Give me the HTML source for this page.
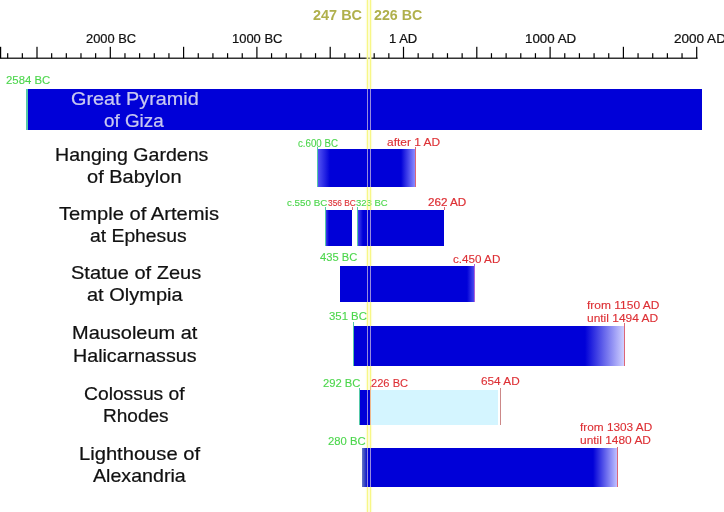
<!DOCTYPE html>
<html><head><meta charset="utf-8"><style>
html,body{margin:0;padding:0;background:#fff;}
body{width:724px;height:512px;position:relative;overflow:hidden;font-family:"Liberation Sans",sans-serif;}
.t{position:absolute;white-space:nowrap;line-height:1;transform-origin:0 0;}
.r{position:absolute;}
</style></head><body>
<svg class="r" style="left:0;top:0" width="724" height="512">
<rect x="0" y="57.6" width="697.6" height="1.2" fill="#000"/>
<rect x="0.00" y="46.8" width="1.2" height="11.40" fill="#000"/>
<rect x="36.40" y="46.8" width="1.2" height="11.40" fill="#000"/>
<rect x="109.70" y="46.8" width="1.2" height="11.40" fill="#000"/>
<rect x="183.00" y="46.8" width="1.2" height="11.40" fill="#000"/>
<rect x="256.30" y="46.8" width="1.2" height="11.40" fill="#000"/>
<rect x="329.60" y="46.8" width="1.2" height="11.40" fill="#000"/>
<rect x="402.90" y="46.8" width="1.2" height="11.40" fill="#000"/>
<rect x="476.20" y="46.8" width="1.2" height="11.40" fill="#000"/>
<rect x="549.50" y="46.8" width="1.2" height="11.40" fill="#000"/>
<rect x="622.80" y="46.8" width="1.2" height="11.40" fill="#000"/>
<rect x="696.10" y="46.8" width="1.2" height="11.40" fill="#000"/>
<rect x="7.08" y="53.2" width="1.2" height="5.00" fill="#000"/>
<rect x="21.74" y="53.2" width="1.2" height="5.00" fill="#000"/>
<rect x="51.06" y="53.2" width="1.2" height="5.00" fill="#000"/>
<rect x="65.72" y="53.2" width="1.2" height="5.00" fill="#000"/>
<rect x="80.38" y="53.2" width="1.2" height="5.00" fill="#000"/>
<rect x="95.04" y="53.2" width="1.2" height="5.00" fill="#000"/>
<rect x="124.36" y="53.2" width="1.2" height="5.00" fill="#000"/>
<rect x="139.02" y="53.2" width="1.2" height="5.00" fill="#000"/>
<rect x="153.68" y="53.2" width="1.2" height="5.00" fill="#000"/>
<rect x="168.34" y="53.2" width="1.2" height="5.00" fill="#000"/>
<rect x="197.66" y="53.2" width="1.2" height="5.00" fill="#000"/>
<rect x="212.32" y="53.2" width="1.2" height="5.00" fill="#000"/>
<rect x="226.98" y="53.2" width="1.2" height="5.00" fill="#000"/>
<rect x="241.64" y="53.2" width="1.2" height="5.00" fill="#000"/>
<rect x="270.96" y="53.2" width="1.2" height="5.00" fill="#000"/>
<rect x="285.62" y="53.2" width="1.2" height="5.00" fill="#000"/>
<rect x="300.28" y="53.2" width="1.2" height="5.00" fill="#000"/>
<rect x="314.94" y="53.2" width="1.2" height="5.00" fill="#000"/>
<rect x="344.26" y="53.2" width="1.2" height="5.00" fill="#000"/>
<rect x="358.92" y="53.2" width="1.2" height="5.00" fill="#000"/>
<rect x="373.58" y="53.2" width="1.2" height="5.00" fill="#000"/>
<rect x="388.24" y="53.2" width="1.2" height="5.00" fill="#000"/>
<rect x="417.56" y="53.2" width="1.2" height="5.00" fill="#000"/>
<rect x="432.22" y="53.2" width="1.2" height="5.00" fill="#000"/>
<rect x="446.88" y="53.2" width="1.2" height="5.00" fill="#000"/>
<rect x="461.54" y="53.2" width="1.2" height="5.00" fill="#000"/>
<rect x="490.86" y="53.2" width="1.2" height="5.00" fill="#000"/>
<rect x="505.52" y="53.2" width="1.2" height="5.00" fill="#000"/>
<rect x="520.18" y="53.2" width="1.2" height="5.00" fill="#000"/>
<rect x="534.84" y="53.2" width="1.2" height="5.00" fill="#000"/>
<rect x="564.16" y="53.2" width="1.2" height="5.00" fill="#000"/>
<rect x="578.82" y="53.2" width="1.2" height="5.00" fill="#000"/>
<rect x="593.48" y="53.2" width="1.2" height="5.00" fill="#000"/>
<rect x="608.14" y="53.2" width="1.2" height="5.00" fill="#000"/>
<rect x="637.46" y="53.2" width="1.2" height="5.00" fill="#000"/>
<rect x="652.12" y="53.2" width="1.2" height="5.00" fill="#000"/>
<rect x="666.78" y="53.2" width="1.2" height="5.00" fill="#000"/>
<rect x="681.44" y="53.2" width="1.2" height="5.00" fill="#000"/>
</svg>
<div class="r" style="left:366.55px;top:0;width:1.6px;height:512px;background:#eeee6a;box-shadow:0 0 1.5px 0.5px #f8f8b8;"></div>
<div class="r" style="left:369.6px;top:0;width:1.6px;height:512px;background:#eeee6a;box-shadow:0 0 1.5px 0.5px #f8f8b8;"></div>
<div class="r" style="left:26px;top:89.3px;width:676px;height:40.3px;background:#0000d8;"></div>
<div class="r" style="left:316.7px;top:148.5px;width:98.0px;height:38.5px;background:linear-gradient(to right,#5a5af5 0px,#0000d8 13px,#0000d8 84px,#8a8aff 98px);"></div>
<div class="r" style="left:325px;top:210px;width:27.19999999999999px;height:35.599999999999994px;background:linear-gradient(to right,#5050f0 0px,#0000d8 4px);"></div>
<div class="r" style="left:357.4px;top:210px;width:86.70000000000005px;height:35.599999999999994px;background:linear-gradient(to right,#5050f0 0px,#0000d8 6px);"></div>
<div class="r" style="left:339.9px;top:266px;width:134.70000000000005px;height:36px;background:linear-gradient(to right,#0000d8 0px,#0000d8 127px,#5050f0 134.7px);"></div>
<div class="r" style="left:352.7px;top:326px;width:271.09999999999997px;height:40px;background:linear-gradient(to right,#0000d8 0px,#0000d8 232px,#d0d0ff 271px);"></div>
<div class="r" style="left:359.4px;top:389.5px;width:10.700000000000045px;height:35.60000000000002px;background:#0000d8;"></div>
<div class="r" style="left:370.8px;top:389.5px;width:127.69999999999999px;height:35.5px;background:#d4f5ff;"></div>
<div class="r" style="left:362.2px;top:447.6px;width:255.3px;height:39.19999999999999px;background:linear-gradient(to right,#6878c8 0px,#3040c0 3px,#0000d8 5.5px,#0000d8 231px,#c0c0ff 255px);"></div>
<div class="r" style="left:26.2px;top:89.3px;width:1.5px;height:40.7px;background:#55c8a8;"></div>
<div class="r" style="left:316.5px;top:147px;width:1px;height:40px;background:#55c8a8;"></div>
<div class="r" style="left:414.5px;top:147px;width:1px;height:40px;background:#dd6677;"></div>
<div class="r" style="left:324.8px;top:207px;width:1px;height:39px;background:#55c8a8;"></div>
<div class="r" style="left:352.3px;top:207px;width:1px;height:3px;background:#dd6677;"></div>
<div class="r" style="left:357.2px;top:207px;width:1px;height:39px;background:#55c8a8;"></div>
<div class="r" style="left:444.2px;top:207px;width:1px;height:3px;background:#dd6677;"></div>
<div class="r" style="left:474.3px;top:264px;width:1px;height:38px;background:#b060d8;"></div>
<div class="r" style="left:352.5px;top:322px;width:1px;height:44px;background:#55c8a8;"></div>
<div class="r" style="left:623.5px;top:323px;width:1px;height:43px;background:#dd6677;"></div>
<div class="r" style="left:499.5px;top:387.5px;width:1px;height:37.5px;background:#cc8888;"></div>
<div class="r" style="left:370.1px;top:386px;width:1px;height:39px;background:#d86070;"></div>
<div class="r" style="left:617.3px;top:446.5px;width:1px;height:40.30000000000001px;background:#dd6677;"></div>
<div class="r" style="left:359.2px;top:388px;width:1px;height:37px;background:#55c8a8;"></div>
<div class="t" id="t0" style="left:312.75px;top:7.31px;font-size:15.41px;color:#b0b04c;font-weight:bold;transform:scaleX(0.9383);-webkit-text-stroke:0px currentColor;">247 BC<span class="bl" style="display:inline-block;width:0;height:0;vertical-align:baseline"></span></div>
<div class="t" id="t1" style="left:374.19px;top:7.31px;font-size:15.41px;color:#b0b04c;font-weight:bold;transform:scaleX(0.9217);-webkit-text-stroke:0px currentColor;">226 BC<span class="bl" style="display:inline-block;width:0;height:0;vertical-align:baseline"></span></div>
<div class="t" id="t2" style="left:86.38px;top:32.90px;font-size:12.65px;color:#111;font-weight:normal;transform:scaleX(1.0171);-webkit-text-stroke:0.22px currentColor;">2000 BC<span class="bl" style="display:inline-block;width:0;height:0;vertical-align:baseline"></span></div>
<div class="t" id="t3" style="left:232.13px;top:32.71px;font-size:12.65px;color:#111;font-weight:normal;transform:scaleX(1.0253);-webkit-text-stroke:0.22px currentColor;">1000 BC<span class="bl" style="display:inline-block;width:0;height:0;vertical-align:baseline"></span></div>
<div class="t" id="t4" style="left:388.99px;top:32.81px;font-size:12.06px;color:#111;font-weight:normal;transform:scaleX(1.0822);-webkit-text-stroke:0.22px currentColor;">1 AD<span class="bl" style="display:inline-block;width:0;height:0;vertical-align:baseline"></span></div>
<div class="t" id="t5" style="left:525.32px;top:33.50px;font-size:11.92px;color:#111;font-weight:normal;transform:scaleX(1.1205);-webkit-text-stroke:0.22px currentColor;">1000 AD<span class="bl" style="display:inline-block;width:0;height:0;vertical-align:baseline"></span></div>
<div class="t" id="t6" style="left:674.18px;top:32.70px;font-size:12.21px;color:#111;font-weight:normal;transform:scaleX(1.1090);-webkit-text-stroke:0.22px currentColor;">2000 AD<span class="bl" style="display:inline-block;width:0;height:0;vertical-align:baseline"></span></div>
<div class="t" id="t7" style="left:71.22px;top:90.01px;font-size:18.17px;color:#c8c8f0;font-weight:normal;transform:scaleX(1.0917);-webkit-text-stroke:0.22px currentColor;">Great Pyramid<span class="bl" style="display:inline-block;width:0;height:0;vertical-align:baseline"></span></div>
<div class="t" id="t8" style="left:104.00px;top:111.91px;font-size:18.17px;color:#c8c8f0;font-weight:normal;transform:scaleX(1.0372);-webkit-text-stroke:0.22px currentColor;">of Giza<span class="bl" style="display:inline-block;width:0;height:0;vertical-align:baseline"></span></div>
<div class="t" id="t9" style="left:54.94px;top:146.20px;font-size:18.17px;color:#111;font-weight:normal;transform:scaleX(1.0776);-webkit-text-stroke:0.22px currentColor;">Hanging Gardens<span class="bl" style="display:inline-block;width:0;height:0;vertical-align:baseline"></span></div>
<div class="t" id="t10" style="left:87.42px;top:168.32px;font-size:18.17px;color:#111;font-weight:normal;transform:scaleX(1.1021);-webkit-text-stroke:0.22px currentColor;">of Babylon<span class="bl" style="display:inline-block;width:0;height:0;vertical-align:baseline"></span></div>
<div class="t" id="t11" style="left:58.71px;top:204.91px;font-size:18.17px;color:#111;font-weight:normal;transform:scaleX(1.1096);-webkit-text-stroke:0.22px currentColor;">Temple of Artemis<span class="bl" style="display:inline-block;width:0;height:0;vertical-align:baseline"></span></div>
<div class="t" id="t12" style="left:90.16px;top:227.01px;font-size:18.17px;color:#111;font-weight:normal;transform:scaleX(1.0644);-webkit-text-stroke:0.22px currentColor;">at Ephesus<span class="bl" style="display:inline-block;width:0;height:0;vertical-align:baseline"></span></div>
<div class="t" id="t13" style="left:70.54px;top:264.32px;font-size:18.17px;color:#111;font-weight:normal;transform:scaleX(1.1023);-webkit-text-stroke:0.22px currentColor;">Statue of Zeus<span class="bl" style="display:inline-block;width:0;height:0;vertical-align:baseline"></span></div>
<div class="t" id="t14" style="left:87.07px;top:286.20px;font-size:18.17px;color:#111;font-weight:normal;transform:scaleX(1.1014);-webkit-text-stroke:0.22px currentColor;">at Olympia<span class="bl" style="display:inline-block;width:0;height:0;vertical-align:baseline"></span></div>
<div class="t" id="t15" style="left:71.86px;top:324.41px;font-size:18.02px;color:#111;font-weight:normal;transform:scaleX(1.1081);-webkit-text-stroke:0.22px currentColor;">Mausoleum at<span class="bl" style="display:inline-block;width:0;height:0;vertical-align:baseline"></span></div>
<div class="t" id="t16" style="left:73.11px;top:346.82px;font-size:18.17px;color:#111;font-weight:normal;transform:scaleX(1.0830);-webkit-text-stroke:0.22px currentColor;">Halicarnassus<span class="bl" style="display:inline-block;width:0;height:0;vertical-align:baseline"></span></div>
<div class="t" id="t17" style="left:83.65px;top:384.91px;font-size:18.17px;color:#111;font-weight:normal;transform:scaleX(1.0611);-webkit-text-stroke:0.22px currentColor;">Colossus of<span class="bl" style="display:inline-block;width:0;height:0;vertical-align:baseline"></span></div>
<div class="t" id="t18" style="left:103.26px;top:406.82px;font-size:18.17px;color:#111;font-weight:normal;transform:scaleX(1.0488);-webkit-text-stroke:0.22px currentColor;">Rhodes<span class="bl" style="display:inline-block;width:0;height:0;vertical-align:baseline"></span></div>
<div class="t" id="t19" style="left:78.58px;top:444.91px;font-size:18.17px;color:#111;font-weight:normal;transform:scaleX(1.1099);-webkit-text-stroke:0.22px currentColor;">Lighthouse of<span class="bl" style="display:inline-block;width:0;height:0;vertical-align:baseline"></span></div>
<div class="t" id="t20" style="left:93.15px;top:466.82px;font-size:18.17px;color:#111;font-weight:normal;transform:scaleX(1.0812);-webkit-text-stroke:0.22px currentColor;">Alexandria<span class="bl" style="display:inline-block;width:0;height:0;vertical-align:baseline"></span></div>
<div class="t" id="t21" style="left:6.27px;top:75.10px;font-size:10.90px;color:#4cd64c;font-weight:normal;transform:scaleX(1.0452);-webkit-text-stroke:0.12px currentColor;">2584 BC<span class="bl" style="display:inline-block;width:0;height:0;vertical-align:baseline"></span></div>
<div class="t" id="t22" style="left:298.10px;top:137.81px;font-size:11.05px;color:#4cd64c;font-weight:normal;transform:scaleX(0.8795);-webkit-text-stroke:0.12px currentColor;">c.600 BC<span class="bl" style="display:inline-block;width:0;height:0;vertical-align:baseline"></span></div>
<div class="t" id="t23" style="left:387.43px;top:137.50px;font-size:10.47px;color:#dd3035;font-weight:normal;transform:scaleX(1.1405);-webkit-text-stroke:0.12px currentColor;">after 1 AD<span class="bl" style="display:inline-block;width:0;height:0;vertical-align:baseline"></span></div>
<div class="t" id="t24" style="left:287.16px;top:198.71px;font-size:9.01px;color:#4cd64c;font-weight:normal;transform:scaleX(1.0865);-webkit-text-stroke:0.12px currentColor;">c.550 BC<span class="bl" style="display:inline-block;width:0;height:0;vertical-align:baseline"></span></div>
<div class="t" id="t25" style="left:327.87px;top:198.50px;font-size:9.30px;color:#dd3035;font-weight:normal;transform:scaleX(0.8999);-webkit-text-stroke:0.12px currentColor;">356 BC<span class="bl" style="display:inline-block;width:0;height:0;vertical-align:baseline"></span></div>
<div class="t" id="t26" style="left:355.97px;top:198.51px;font-size:9.01px;color:#4cd64c;font-weight:normal;transform:scaleX(1.0537);-webkit-text-stroke:0.12px currentColor;">323 BC<span class="bl" style="display:inline-block;width:0;height:0;vertical-align:baseline"></span></div>
<div class="t" id="t27" style="left:427.72px;top:196.31px;font-size:11.63px;color:#dd3035;font-weight:normal;transform:scaleX(1.0045);-webkit-text-stroke:0.22px currentColor;">262 AD<span class="bl" style="display:inline-block;width:0;height:0;vertical-align:baseline"></span></div>
<div class="t" id="t28" style="left:319.78px;top:252.40px;font-size:11.05px;color:#4cd64c;font-weight:normal;transform:scaleX(1.0100);-webkit-text-stroke:0.12px currentColor;">435 BC<span class="bl" style="display:inline-block;width:0;height:0;vertical-align:baseline"></span></div>
<div class="t" id="t29" style="left:453.45px;top:255.21px;font-size:10.17px;color:#dd3035;font-weight:normal;transform:scaleX(1.1477);-webkit-text-stroke:0.12px currentColor;">c.450 AD<span class="bl" style="display:inline-block;width:0;height:0;vertical-align:baseline"></span></div>
<div class="t" id="t30" style="left:328.75px;top:311.41px;font-size:11.19px;color:#4cd64c;font-weight:normal;transform:scaleX(1.0157);-webkit-text-stroke:0.12px currentColor;">351 BC<span class="bl" style="display:inline-block;width:0;height:0;vertical-align:baseline"></span></div>
<div class="t" id="t31" style="left:587.32px;top:300.61px;font-size:10.17px;color:#dd3035;font-weight:normal;transform:scaleX(1.1806);-webkit-text-stroke:0.12px currentColor;">from 1150 AD<span class="bl" style="display:inline-block;width:0;height:0;vertical-align:baseline"></span></div>
<div class="t" id="t32" style="left:586.87px;top:313.51px;font-size:10.17px;color:#dd3035;font-weight:normal;transform:scaleX(1.1770);-webkit-text-stroke:0.12px currentColor;">until 1494 AD<span class="bl" style="display:inline-block;width:0;height:0;vertical-align:baseline"></span></div>
<div class="t" id="t33" style="left:323.20px;top:378.01px;font-size:11.05px;color:#4cd64c;font-weight:normal;transform:scaleX(1.0173);-webkit-text-stroke:0.12px currentColor;">292 BC<span class="bl" style="display:inline-block;width:0;height:0;vertical-align:baseline"></span></div>
<div class="t" id="t34" style="left:370.79px;top:377.90px;font-size:11.48px;color:#dd3035;font-weight:normal;transform:scaleX(0.9700);-webkit-text-stroke:0.12px currentColor;">226 BC<span class="bl" style="display:inline-block;width:0;height:0;vertical-align:baseline"></span></div>
<div class="t" id="t35" style="left:480.85px;top:376.71px;font-size:10.32px;color:#dd3035;font-weight:normal;transform:scaleX(1.1436);-webkit-text-stroke:0.12px currentColor;">654 AD<span class="bl" style="display:inline-block;width:0;height:0;vertical-align:baseline"></span></div>
<div class="t" id="t36" style="left:327.55px;top:435.72px;font-size:10.90px;color:#4cd64c;font-weight:normal;transform:scaleX(1.0358);-webkit-text-stroke:0.12px currentColor;">280 BC<span class="bl" style="display:inline-block;width:0;height:0;vertical-align:baseline"></span></div>
<div class="t" id="t37" style="left:579.88px;top:422.71px;font-size:10.32px;color:#dd3035;font-weight:normal;transform:scaleX(1.1447);-webkit-text-stroke:0.12px currentColor;">from 1303 AD<span class="bl" style="display:inline-block;width:0;height:0;vertical-align:baseline"></span></div>
<div class="t" id="t38" style="left:580.19px;top:434.50px;font-size:10.61px;color:#dd3035;font-weight:normal;transform:scaleX(1.1242);-webkit-text-stroke:0.12px currentColor;">until 1480 AD<span class="bl" style="display:inline-block;width:0;height:0;vertical-align:baseline"></span></div>
<div class="r" style="left:366.55px;top:0;width:1.6px;height:512px;background:#968c30;mix-blend-mode:screen;"></div>
<div class="r" style="left:369.6px;top:0;width:1.6px;height:512px;background:#968c30;mix-blend-mode:screen;"></div>
</body></html>
